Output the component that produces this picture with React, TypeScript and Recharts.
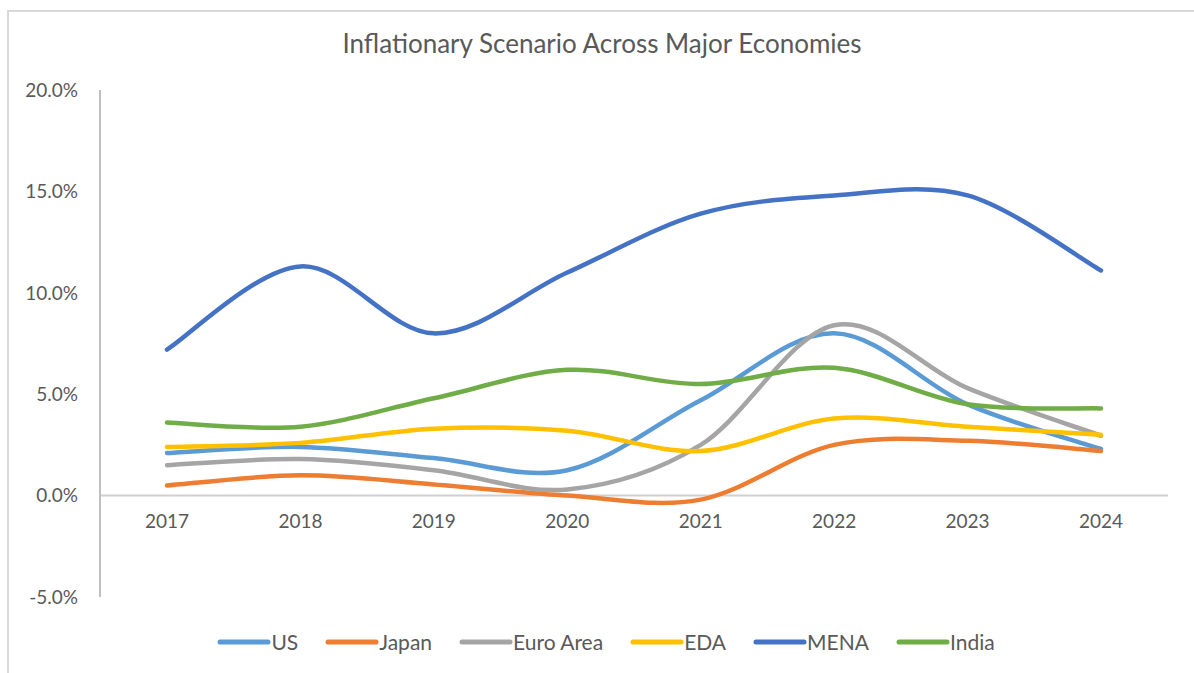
import { LineChart, Line, XAxis, YAxis, ReferenceLine, Legend } from 'recharts';

const years = ['2017', '2018', '2019', '2020', '2021', '2022', '2023', '2024'];

const us = [2.1, 2.4, 1.85, 1.25, 4.7, 8.0, 4.5, 2.3];
const japan = [0.5, 1.0, 0.55, 0.0, -0.2, 2.5, 2.7, 2.2];
const euroArea = [1.5, 1.8, 1.25, 0.3, 2.5, 8.4, 5.3, 2.95];
const eda = [2.4, 2.6, 3.3, 3.2, 2.2, 3.8, 3.4, 3.0];
const mena = [7.2, 11.3, 8.0, 11.0, 13.9, 14.8, 14.8, 11.1];
const india = [3.6, 3.4, 4.8, 6.2, 5.5, 6.3, 4.5, 4.3];

const yTicks = [-5, 0, 5, 10, 15, 20];

const series = [
  { key: 'us', name: 'US', color: '#5B9BD5', values: us },
  { key: 'japan', name: 'Japan', color: '#ED7D31', values: japan },
  { key: 'euro', name: 'Euro Area', color: '#A5A5A5', values: euroArea },
  { key: 'eda', name: 'EDA', color: '#FFC000', values: eda },
  { key: 'mena', name: 'MENA', color: '#4472C4', values: mena },
  { key: 'india', name: 'India', color: '#70AD47', values: india },
];

const data = years.map((year, i) => {
  const row: Record<string, string | number> = { year };
  series.forEach((s) => {
    row[s.key] = s.values[i];
  });
  return row;
});

const FONT = 'Lato, "Open Sans", sans-serif';
const TEXT = '#595959';

// smooth curve in the style of office charts (catmull-rom through each point)
const smoothCurve = (context: any) => {
  let pts: number[][] = [];
  return {
    areaStart() {},
    areaEnd() {},
    lineStart() {
      pts = [];
    },
    point(x: number, y: number) {
      pts.push([+x, +y]);
    },
    lineEnd() {
      if (!pts.length) return;
      context.moveTo(pts[0][0], pts[0][1]);
      for (let i = 0; i < pts.length - 1; i++) {
        const p0 = pts[Math.max(i - 1, 0)];
        const p1 = pts[i];
        const p2 = pts[i + 1];
        const p3 = pts[Math.min(i + 2, pts.length - 1)];
        context.bezierCurveTo(
          p1[0] + (p2[0] - p0[0]) / 6,
          p1[1] + (p2[1] - p0[1]) / 6,
          p2[0] - (p3[0] - p1[0]) / 6,
          p2[1] - (p3[1] - p1[1]) / 6,
          p2[0],
          p2[1]
        );
      }
    },
  };
};

const renderLegend = () => (
  <div
    style={{
      display: 'flex',
      justifyContent: 'center',
      gap: 27,
      paddingLeft: 18,
      fontFamily: FONT,
      fontSize: 21,
      color: TEXT,
    }}
  >
    {series.map((s) => (
      <div key={s.key} style={{ display: 'flex', alignItems: 'center' }}>
        <svg width={54} height={8}>
          <line x1={3} y1={4} x2={51} y2={4} stroke={s.color} strokeWidth={5} strokeLinecap="round" />
        </svg>
        <span>{s.name}</span>
      </div>
    ))}
  </div>
);

const XTick = (props: any) => {
  const { x, y, payload } = props;
  return (
    <text x={x} y={y - 77} textAnchor="middle" fill={TEXT} fontSize={19} fontFamily={FONT}>
      {payload.value}
    </text>
  );
};

const App = () => {
  return (
    <div style={{ position: 'fixed', left: 0, top: 0, width: 1194, height: 673, background: '#fff', overflow: 'hidden' }}>
      <div
        style={{
          position: 'absolute',
          left: 7,
          top: 10,
          width: 1400,
          height: 900,
          border: '2px solid #d9d9d9',
        }}
      />
      <div
        style={{
          position: 'absolute',
          top: 27,
          left: 5,
          width: 1194,
          textAlign: 'center',
          fontFamily: FONT,
          fontSize: 26,
          color: TEXT,
        }}
      >
        Inflationary Scenario Across Major Economies
      </div>
      <div style={{ position: 'absolute', left: 0, top: 0 }}>
        <LineChart width={1194} height={673} data={data} margin={{ top: 90, right: 26, left: 10, bottom: 46 }}>
          <YAxis
            width={90}
            domain={[-5, 20]}
            ticks={yTicks}
            interval={0}
            tickLine={false}
            axisLine={{ stroke: '#bfbfbf', strokeWidth: 2 }}
            tickMargin={16}
            tickFormatter={(v: number) => `${v.toFixed(1)}%`}
            tick={{ fill: TEXT, fontSize: 19, fontFamily: FONT }}
          />
          <XAxis
            dataKey="year"
            height={30}
            padding={{ left: 67, right: 67 }}
            axisLine={false}
            tickLine={false}
            interval={0}
            tick={<XTick />}
          />
          <ReferenceLine y={0} stroke="#d0d0d0" strokeWidth={2} />
          {series.map((s) => (
            <Line
              key={s.key}
              dataKey={s.key}
              name={s.name}
              type={smoothCurve as any}
              stroke={s.color}
              strokeWidth={4.5}
              strokeLinecap="round"
              dot={false}
              activeDot={false}
              isAnimationActive={false}
            />
          ))}
          <Legend
            layout="horizontal"
            verticalAlign="middle"
            content={renderLegend}
            wrapperStyle={{ top: 629, left: 0, width: 1194 }}
          />
        </LineChart>
      </div>
    </div>
  );
};

export default App;
